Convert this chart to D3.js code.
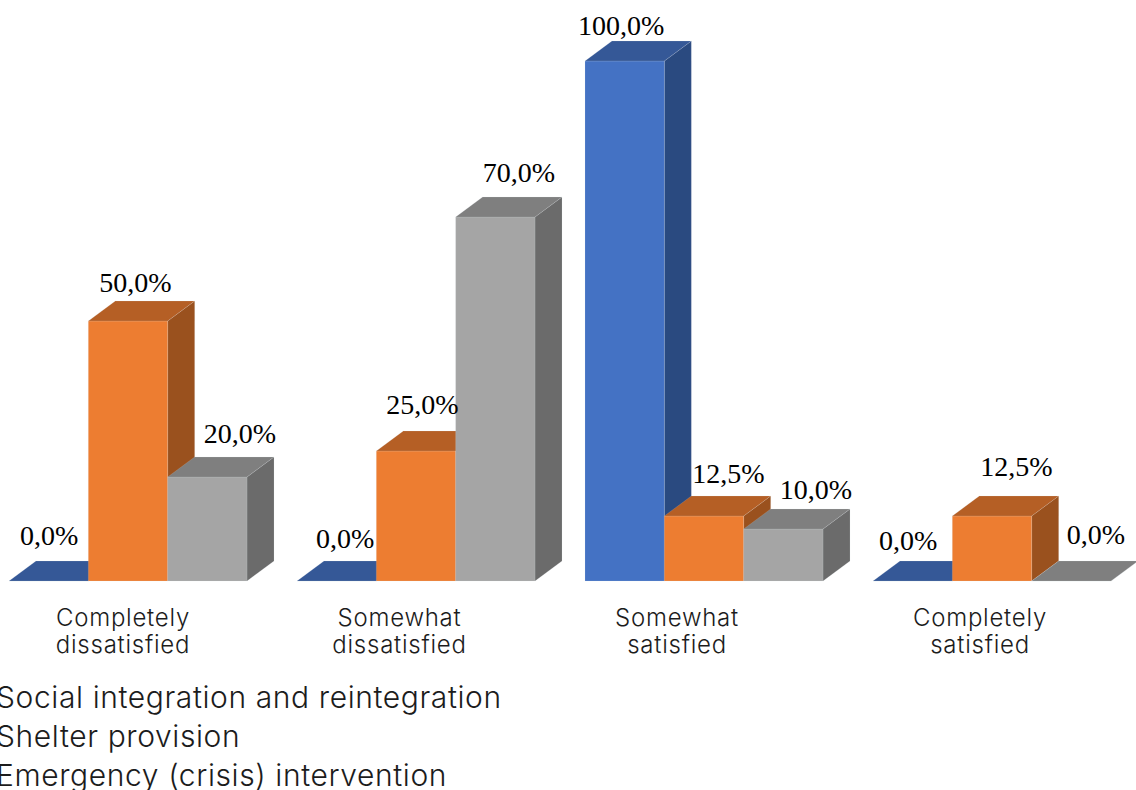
<!DOCTYPE html>
<html><head><meta charset="utf-8">
<script src="https://cdn.jsdelivr.net/npm/d3@7"></script>
<style>
html,body{margin:0;padding:0;background:#fff;overflow:hidden}
svg{display:block}
.cat text,.legend text{font-family:Inter,"Open Sans",sans-serif;fill:#1c1c1c;font-weight:350}
.val{font-family:"Liberation Serif",serif;font-size:28px;fill:#000;text-anchor:middle}
</style></head><body>
<svg id="c" width="1136" height="790"></svg>
<script>
const categories=["Completely dissatisfied","Somewhat dissatisfied","Somewhat satisfied","Completely satisfied"];
const categoryLines=[["Completely","dissatisfied"],["Somewhat","dissatisfied"],["Somewhat","satisfied"],["Completely","satisfied"]];
const seriesNames=["Social integration and reintegration","Shelter provision","Emergency (crisis) intervention"];
const socialIntegration=[0,0,100,0];
const shelterProvision=[50,25,12.5,12.5];
const emergencyIntervention=[20,70,10,0];
const seriesValues=[socialIntegration,shelterProvision,emergencyIntervention];
const frontColors=["#4472C4","#ED7D31","#A5A5A5"];
const topColors=["#355897","#B55F25","#7F7F7F"];
const sideColors=["#2A4A80","#9A511E","#6B6B6B"];
// hand-placed label nudges from the source chart [dx,dy], by series then category
const labelNudge=[
 [[-13,-6],[-5,-3],[-17,4],[-18,-1]],
 [[-6,1],[-7,-7],[11,-3],[11,-10]],
 [[19,-4],[10,-5],[19,0],[11,-7]]
];
const catNudge=[-5,-16.5,-27,-12];

const svg=d3.select("#c");
const baseY=581,topY=61,depthX=27,depthY=20;
const x=d3.scaleBand().domain(categories).range([9,1111]).paddingInner(50/288).paddingOuter(0);
const inner=d3.scaleBand().domain(d3.range(seriesNames.length)).range([0,x.bandwidth()]);
const y=d3.scaleLinear().domain([0,100]).range([baseY,topY]);
const edge={stroke:"rgba(215,220,230,.22)",w:.7};

const rows=categories.flatMap((c,ci)=>seriesNames.map((s,si)=>({c,ci,si,v:seriesValues[si][ci]})));
const bars=svg.append("g").selectAll("g").data(rows).join("g");
const poly=(sel,colorArr,fn)=>sel.append("polygon")
  .attr("points",d=>fn(d).map(p=>p.join(",")).join(" "))
  .attr("fill",d=>colorArr[d.si]).attr("stroke",edge.stroke).attr("stroke-width",edge.w);
const L=d=>x(d.c)+inner(d.si),R=d=>L(d)+inner.bandwidth();
poly(bars,sideColors,d=>[[R(d),y(d.v)],[R(d)+depthX,y(d.v)-depthY],[R(d)+depthX,baseY-depthY],[R(d),baseY]]);
poly(bars,frontColors,d=>[[L(d),y(d.v)],[R(d),y(d.v)],[R(d),baseY],[L(d),baseY]]);
poly(bars,topColors,d=>[[L(d),y(d.v)],[L(d)+depthX,y(d.v)-depthY],[R(d)+depthX,y(d.v)-depthY],[R(d),y(d.v)]]);

const fmt=v=>v.toFixed(1).replace(".",",")+"%";
svg.append("g").selectAll("text").data(rows).join("text").attr("class","val")
  .attr("x",d=>L(d)+inner.bandwidth()/2+depthX/2+labelNudge[d.si][d.ci][0])
  .attr("y",d=>y(d.v)-depthY-10+labelNudge[d.si][d.ci][1])
  .text(d=>fmt(d.v));

const axis=d3.axisBottom(x).tickSize(0).tickFormat("");
const ag=svg.append("g").attr("class","cat").attr("transform",`translate(0,${baseY})`).call(axis);
ag.select(".domain").remove();
ag.selectAll(".tick text").each(function(d,i){
  const t=d3.select(this).style("font-size","24px").style("letter-spacing","0.75px")
    .attr("text-anchor","middle").attr("y",null).attr("dy",null).attr("x",catNudge[i]);
  t.selectAll("tspan").data(categoryLines[i]).join("tspan")
   .attr("x",catNudge[i]).attr("y",(l,k)=>45+k*27).text(l=>l);
});
ag.attr("font-size",null).attr("font-family",null);

svg.append("g").attr("class","legend").selectAll("text").data(seriesNames).join("text")
  .attr("x",-4).attr("y",(s,i)=>708+i*39).style("font-size","30px").style("letter-spacing","0.6px").text(s=>s);
</script></body></html>
